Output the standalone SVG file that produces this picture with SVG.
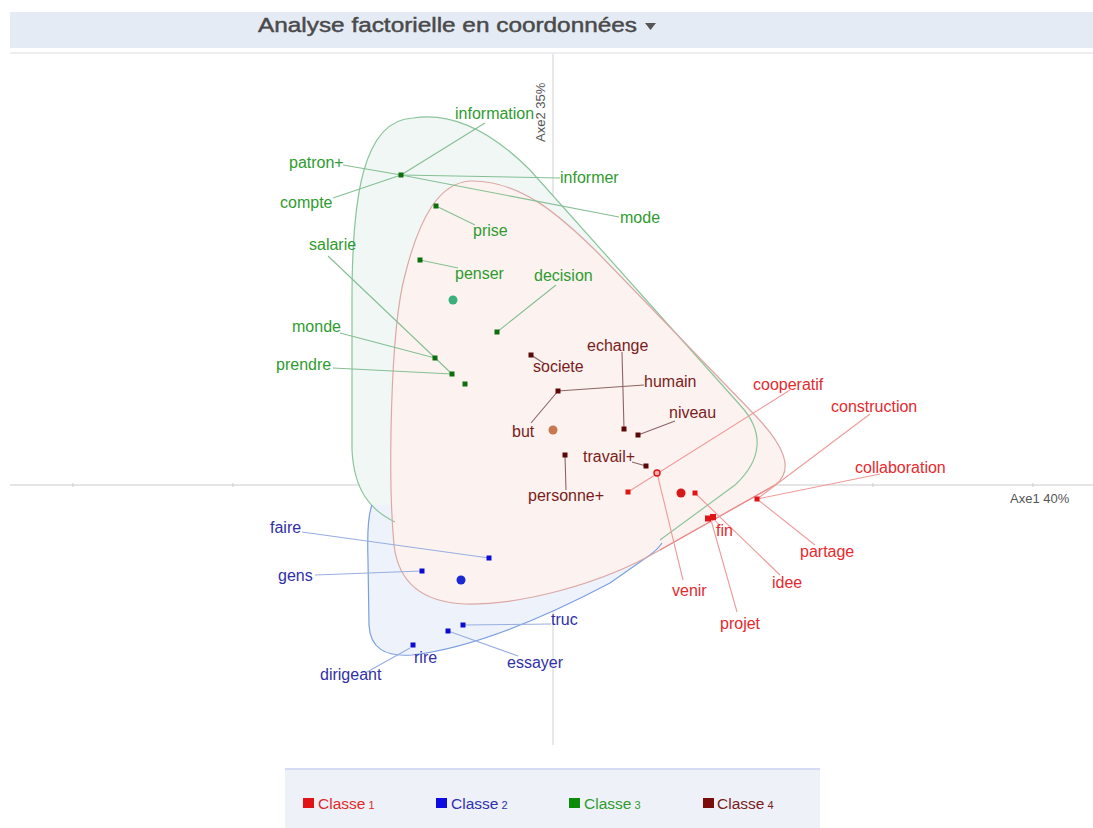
<svg xmlns="http://www.w3.org/2000/svg" width="1093" height="828" viewBox="0 0 1093 828">
<style>
text{font-family:"Liberation Sans",Arial,sans-serif;}
.lbl{font-size:16px;}
.g{fill:#2f9b2f;} .r{fill:#e62a2e;} .b{fill:#3030a8;} .d{fill:#7a1c1c;}
.pg{fill:#0c6e0c;} .pr{fill:#e01414;} .pb{fill:#0c0cd0;} .pd{fill:#5a0808;}
.cg line{stroke:#86bf94;stroke-width:1.1;} .cr line{stroke:#f09a9a;stroke-width:1.1;}
.cb line{stroke:#98aee0;stroke-width:1.1;} .cd line{stroke:#8c6464;stroke-width:1.1;}
.axis{stroke:#dcdcdc;stroke-width:1.3;fill:none;}
.axt{font-size:13px;fill:#555;}
.leg{font-size:15.5px;}
.legn{font-size:11px;}
</style>
<rect width="1093" height="828" fill="#ffffff"/>
<!-- header -->
<g id="header">
<rect x="10" y="12" width="1083" height="36" fill="#e4ebf5"/>
<line x1="10" y1="53" x2="1093" y2="53" stroke="#e6e9ee" stroke-width="1.5"/>
<text x="258" y="32" font-size="20" fill="#4a4a4a" stroke="#4a4a4a" stroke-width="0.45" textLength="379" lengthAdjust="spacingAndGlyphs">Analyse factorielle en coordonnées</text>
<path d="M645,23 L656,23 L650.5,30 Z" fill="#555"/>
</g>
<!-- axes -->
<g id="axes">
<line class="axis" x1="553" y1="54" x2="553" y2="745"/>
<line class="axis" x1="10" y1="485" x2="1093" y2="485"/>
<g stroke="#cfcfcf" stroke-width="1">
<line x1="73" y1="483" x2="73" y2="487"/><line x1="233" y1="483" x2="233" y2="487"/>
<line x1="873" y1="483" x2="873" y2="487"/><line x1="1033" y1="483" x2="1033" y2="487"/>
</g>
<text class="axt" x="1010" y="503">Axe1  40%</text>
<text class="axt" transform="translate(545,142) rotate(-90)">Axe2  35%</text>
</g>
<!-- hull fills -->
<g id="hulls">
<path d="M413,118 C450,112 490,130 530,170 L740,405 C765,432 762,460 735,485 L660,540 C620,560 560,575 500,565 L420,540 L395,522 C370,510 354,490 352,450 L352,300 C352,200 362,120 413,118 Z" fill="#f0f7f5"/>
<path d="M372,505 C368,515 367,530 368,560 L369,625 C370,648 385,657 412,655 C470,648 540,620 610,583 L650,555 C660,548 655,540 640,540 L420,520 L395,505 Z" fill="#eef3fb"/>
<path d="M470,181 C520,180 560,215 600,255 L750,410 C785,445 795,470 775,485 L660,550 C600,585 520,605 465,604 C420,602 398,580 394,545 C388,480 390,330 405,275 C420,215 440,183 470,181 Z" fill="#fcf3f0"/>
<path d="M395,522 C370,510 354,490 352,450 L352,300 C352,200 362,120 413,118 C450,112 490,130 530,170 L740,405 C765,432 762,460 735,485 L660,540" fill="none" stroke="#8cc49c" stroke-width="1.2"/>
<path d="M372,505 C368,515 367,530 368,560 L369,625 C370,648 385,657 412,655 C470,648 540,620 610,583 L650,555 C658,549 660,546 662,543" fill="none" stroke="#7c9ee0" stroke-width="1.2"/>
<path d="M470,181 C520,180 560,215 600,255 L750,410 C785,445 795,470 775,485 L660,550 C600,585 520,605 465,604 C420,602 398,580 394,545 C388,480 390,330 405,275 C420,215 440,183 470,181 Z" fill="none" stroke="#dca8a6" stroke-width="1.2"/>
<path d="M775,485 L660,550" fill="none" stroke="#ee8a8a" stroke-width="1.2"/>
</g>
<!-- connectors -->
<g id="connectors">
<g class="cg">
<line x1="401" y1="175" x2="485" y2="123"/>
<line x1="343" y1="165" x2="401" y2="175"/>
<line x1="333" y1="198" x2="401" y2="175"/>
<line x1="401" y1="175" x2="560" y2="178"/>
<line x1="401" y1="175" x2="619" y2="217"/>
<line x1="436" y1="206" x2="475" y2="225"/>
<line x1="420" y1="260" x2="458" y2="268"/>
<line x1="497" y1="332" x2="556" y2="285"/>
<line x1="340" y1="333" x2="435" y2="358"/>
<line x1="333" y1="368" x2="452" y2="374"/>
<line x1="328" y1="256" x2="452" y2="374"/>
</g>
<g class="cd">
<line x1="531" y1="355" x2="545" y2="364"/>
<line x1="558" y1="391" x2="644" y2="385"/>
<line x1="558" y1="391" x2="531" y2="423"/>
<line x1="622" y1="352" x2="624" y2="429"/>
<line x1="638" y1="435" x2="675" y2="421"/>
<line x1="632" y1="462" x2="646" y2="466"/>
<line x1="565" y1="455" x2="566" y2="490"/>
</g>
<g class="cr">
<line x1="628" y1="492" x2="790" y2="390"/>
<line x1="757" y1="499" x2="870" y2="414"/>
<line x1="757" y1="499" x2="880" y2="474"/>
<line x1="757" y1="499" x2="815" y2="545"/>
<line x1="695" y1="493" x2="780" y2="575"/>
<line x1="713" y1="518" x2="720" y2="526"/>
<line x1="711" y1="520" x2="737" y2="612"/>
<line x1="657" y1="473" x2="683" y2="580"/>
</g>
<g class="cb">
<line x1="302" y1="532" x2="489" y2="558"/>
<line x1="315" y1="575" x2="422" y2="571"/>
<line x1="463" y1="625" x2="551" y2="624"/>
<line x1="448" y1="631" x2="518" y2="656"/>
<line x1="410" y1="648" x2="367" y2="672"/>
</g>
</g>
<!-- Classe 3 (green) -->
<g id="n-information"><text class="lbl g" x="455" y="119">information</text></g>
<g id="n-patron"><rect class="pg" x="398.5" y="172.5" width="5" height="5"/><text class="lbl g" x="289" y="168">patron+</text></g>
<g id="n-informer"><text class="lbl g" x="560" y="183">informer</text></g>
<g id="n-compte"><text class="lbl g" x="280" y="208">compte</text></g>
<g id="n-mode"><text class="lbl g" x="620" y="223">mode</text></g>
<g id="n-prise"><rect class="pg" x="433.5" y="203.5" width="5" height="5"/><text class="lbl g" x="473" y="236">prise</text></g>
<g id="n-salarie"><text class="lbl g" x="309" y="250">salarie</text></g>
<g id="n-penser"><rect class="pg" x="417.5" y="257.5" width="5" height="5"/><text class="lbl g" x="455" y="279">penser</text></g>
<g id="n-c3"><circle cx="453" cy="300" r="4.5" fill="#3cb07c"/></g>
<g id="n-decision"><rect class="pg" x="494.5" y="329.5" width="5" height="5"/><text class="lbl g" x="534" y="281">decision</text></g>
<g id="n-monde"><rect class="pg" x="432.5" y="355.5" width="5" height="5"/><text class="lbl g" x="292" y="332">monde</text></g>
<g id="n-prendre"><rect class="pg" x="449.5" y="371.5" width="5" height="5"/><text class="lbl g" x="276" y="370">prendre</text></g>
<g id="n-g8"><rect class="pg" x="462.5" y="381.5" width="5" height="5"/></g>
<!-- Classe 4 (dark red) -->
<g id="n-societe"><rect class="pd" x="528.5" y="352.5" width="5" height="5"/><text class="lbl d" x="533" y="372">societe</text></g>
<g id="n-echange"><rect class="pd" x="621.5" y="426.5" width="5" height="5"/><text class="lbl d" x="587" y="351">echange</text></g>
<g id="n-humain"><rect class="pd" x="555.5" y="388.5" width="5" height="5"/><text class="lbl d" x="644" y="387">humain</text></g>
<g id="n-niveau"><rect class="pd" x="635.5" y="432.5" width="5" height="5"/><text class="lbl d" x="669" y="418">niveau</text></g>
<g id="n-but"><text class="lbl d" x="512" y="437">but</text></g>
<g id="n-c4"><circle cx="553" cy="430" r="4.5" fill="#c8784e"/></g>
<g id="n-travail"><rect class="pd" x="643.5" y="463.5" width="5" height="5"/><text class="lbl d" x="583" y="462">travail+</text></g>
<g id="n-personne"><rect class="pd" x="562.5" y="452.5" width="5" height="5"/><text class="lbl d" x="528" y="501">personne+</text></g>
<!-- Classe 1 (red) -->
<g id="n-cooperatif"><rect class="pr" x="625.5" y="489.5" width="5" height="5"/><text class="lbl r" x="753" y="390">cooperatif</text></g>
<g id="n-venir"><circle cx="657" cy="473" r="3" fill="#f6b0b0" stroke="#e01414" stroke-width="1.4"/><text class="lbl r" x="672" y="596">venir</text></g>
<g id="n-c1"><circle cx="681" cy="493" r="4.5" fill="#d81818"/></g>
<g id="n-idee"><rect class="pr" x="692.5" y="490.5" width="5" height="5"/><text class="lbl r" x="772" y="588">idee</text></g>
<g id="n-collaboration"><rect class="pr" x="754.5" y="496.5" width="5" height="5"/><text class="lbl r" x="855" y="473">collaboration</text></g>
<g id="n-construction"><text class="lbl r" x="831" y="412">construction</text></g>
<g id="n-partage"><text class="lbl r" x="800" y="557">partage</text></g>
<g id="n-fin"><rect class="pr" x="705" y="515.5" width="6" height="6"/><rect class="pr" x="710" y="514" width="6" height="6"/><text class="lbl r" x="716" y="536">fin</text></g>
<g id="n-projet"><text class="lbl r" x="720" y="629">projet</text></g>
<!-- Classe 2 (blue) -->
<g id="n-faire"><rect class="pb" x="486.5" y="555.5" width="5" height="5"/><text class="lbl b" x="270" y="533">faire</text></g>
<g id="n-gens"><rect class="pb" x="419.5" y="568.5" width="5" height="5"/><text class="lbl b" x="278" y="581">gens</text></g>
<g id="n-c2"><circle cx="461" cy="580" r="4.5" fill="#1a2ad0"/></g>
<g id="n-truc"><rect class="pb" x="460.5" y="622.5" width="5" height="5"/><text class="lbl b" x="551" y="625">truc</text></g>
<g id="n-essayer"><rect class="pb" x="445.5" y="628.5" width="5" height="5"/><text class="lbl b" x="507" y="668">essayer</text></g>
<g id="n-rire"><rect class="pb" x="410.5" y="642.5" width="5" height="5"/><text class="lbl b" x="414" y="663">rire</text></g>
<g id="n-dirigeant"><text class="lbl b" x="320" y="680">dirigeant</text></g>
<!-- legend -->
<g id="legend">
<rect x="285" y="768" width="535" height="60" fill="#eef1f8"/>
<line x1="285" y1="769" x2="820" y2="769" stroke="#d4dbf2" stroke-width="2"/>
<rect x="303" y="798" width="11" height="10" fill="#e01414"/>
<text class="leg" x="318" y="809" fill="#e02a2a">Classe<tspan class="legn" dx="3">1</tspan></text>
<rect x="436" y="798" width="11" height="10" fill="#0c0ce0"/>
<text class="leg" x="451" y="809" fill="#3030b0">Classe<tspan class="legn" dx="3">2</tspan></text>
<rect x="569" y="798" width="11" height="10" fill="#0c8a0c"/>
<text class="leg" x="584" y="809" fill="#2f9b2f">Classe<tspan class="legn" dx="3">3</tspan></text>
<rect x="703" y="798" width="11" height="10" fill="#7a0c0c"/>
<text class="leg" x="717" y="809" fill="#7a1c1c">Classe<tspan class="legn" dx="3">4</tspan></text>
</g>
</svg>
